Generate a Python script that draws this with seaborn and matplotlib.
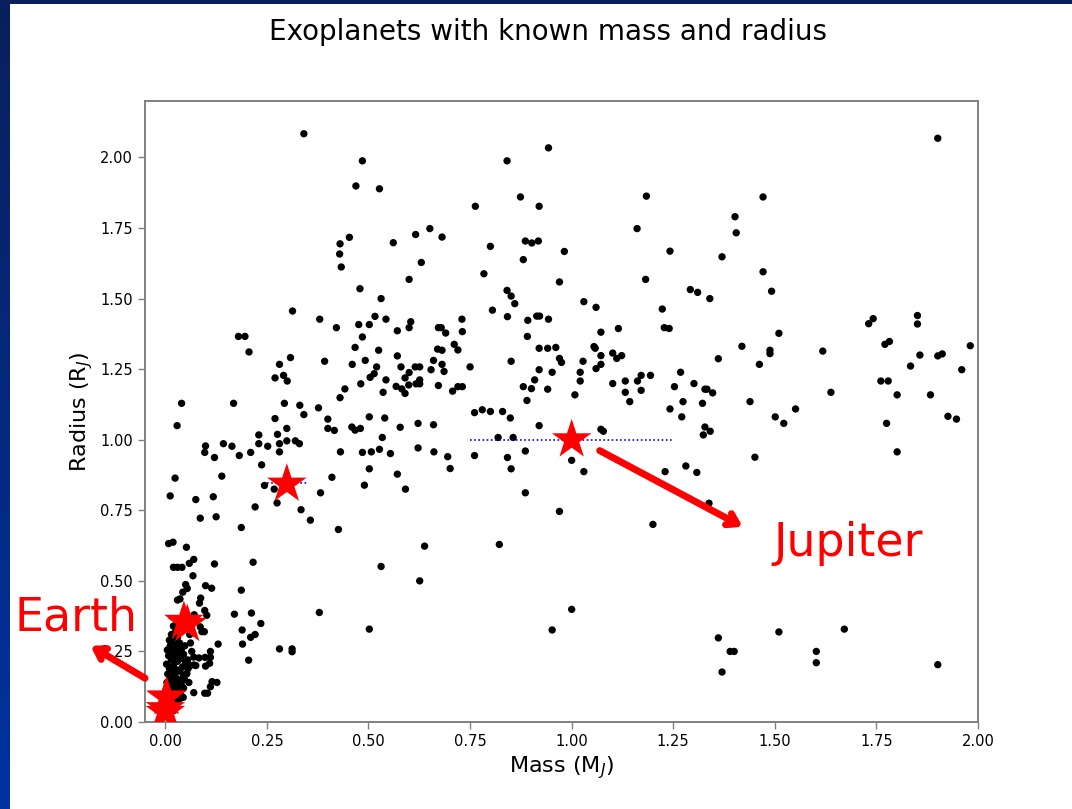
import numpy as np
import pandas as pd
import matplotlib
matplotlib.use("Agg")
import matplotlib.pyplot as plt
import seaborn as sns
from matplotlib.colors import LinearSegmentedColormap

# ---- exoplanet data (mass in M_J, radius in R_J) ----
mass_upper = [0.341, 0.485, 0.469, 0.527, 0.616, 0.453, 0.430, 0.561, 0.429, 0.630,
              0.433, 0.600, 0.479, 0.531, 0.313, 0.380, 0.516, 0.543, 0.421, 0.476,
              0.502, 0.604, 0.600, 0.571, 0.485, 0.180, 0.196, 0.206, 0.467, 0.525,
              0.308, 0.281, 0.392, 0.460, 0.492, 0.571, 0.520, 0.580, 0.615, 0.626,
              0.270, 0.291, 0.300, 0.514, 0.504, 0.543, 0.600, 0.590, 0.626, 0.481,
              0.568, 0.582, 0.599, 0.617, 0.626, 0.590, 0.442, 0.430, 0.536, 0.040,
              0.168, 0.293, 0.331, 0.377, 0.270, 0.341, 0.400, 0.502, 0.540]
radius_upper = [2.084, 1.988, 1.899, 1.889, 1.727, 1.717, 1.694, 1.698, 1.658, 1.628,
                1.612, 1.568, 1.535, 1.500, 1.456, 1.427, 1.437, 1.427, 1.397, 1.408,
                1.408, 1.418, 1.397, 1.386, 1.364, 1.366, 1.366, 1.311, 1.327, 1.317,
                1.291, 1.267, 1.278, 1.267, 1.281, 1.297, 1.258, 1.258, 1.258, 1.258,
                1.219, 1.228, 1.208, 1.234, 1.221, 1.212, 1.238, 1.219, 1.212, 1.198,
                1.189, 1.180, 1.194, 1.198, 1.198, 1.164, 1.180, 1.149, 1.168, 1.129,
                1.129, 1.129, 1.122, 1.113, 1.075, 1.089, 1.073, 1.081, 1.077]

mass_mid = [0.943, 0.841, 0.874, 0.763, 0.920, 1.184, 0.651, 0.681, 1.161, 0.800,
            0.886, 0.902, 0.918, 0.881, 0.982, 1.242, 0.784, 0.970, 1.182, 0.841,
            0.851, 0.860, 1.292, 1.310, 1.030, 1.060, 1.223, 0.805, 0.842, 0.730,
            0.892, 0.914, 0.921, 0.943, 0.672, 0.679, 0.690, 0.731, 1.072, 1.115,
            1.228, 1.240, 0.891, 0.711, 0.670, 0.681, 0.720, 0.920, 0.941, 0.961,
            1.055, 1.058, 1.101, 1.111, 1.123, 0.660, 0.681, 0.654, 0.686, 0.750,
            0.851, 0.970, 0.975, 1.028, 1.072, 1.072, 1.060, 0.920, 0.952, 0.909,
            1.021, 1.021, 0.672, 0.707, 0.720, 0.731, 0.881, 0.901, 0.941, 0.890,
            1.008, 1.101, 1.132, 1.132, 1.143, 1.162, 1.171, 1.171, 1.194, 1.268,
            1.253, 1.301, 1.328, 1.274, 1.322, 1.242, 1.271, 0.761, 0.780, 0.800,
            0.830, 0.849]
radius_mid = [2.034, 1.988, 1.860, 1.827, 1.827, 1.863, 1.748, 1.718, 1.748, 1.685,
              1.704, 1.697, 1.704, 1.638, 1.667, 1.668, 1.588, 1.559, 1.568, 1.529,
              1.509, 1.482, 1.532, 1.522, 1.489, 1.469, 1.463, 1.459, 1.436, 1.427,
              1.423, 1.438, 1.438, 1.427, 1.397, 1.397, 1.378, 1.383, 1.381, 1.394,
              1.397, 1.394, 1.366, 1.338, 1.321, 1.317, 1.318, 1.324, 1.324, 1.327,
              1.330, 1.324, 1.307, 1.288, 1.298, 1.281, 1.267, 1.248, 1.242, 1.258,
              1.278, 1.288, 1.274, 1.278, 1.298, 1.267, 1.252, 1.248, 1.239, 1.212,
              1.239, 1.208, 1.192, 1.172, 1.188, 1.188, 1.188, 1.181, 1.179, 1.139,
              1.159, 1.199, 1.208, 1.168, 1.135, 1.208, 1.228, 1.175, 1.228, 1.239,
              1.188, 1.199, 1.179, 1.135, 1.129, 1.109, 1.081, 1.096, 1.106, 1.100,
              1.100, 1.077]

mass_right = [1.901, 1.471, 1.402, 1.405, 1.370, 1.471, 1.492, 1.340, 1.510, 1.731,
              1.742, 1.851, 1.851, 1.419, 1.488, 1.488, 1.618, 1.771, 1.782, 1.857,
              1.901, 1.912, 1.981, 1.361, 1.462, 1.834, 1.960, 1.333, 1.347, 1.439,
              1.638, 1.761, 1.779, 1.801, 1.883, 1.551, 1.501, 1.926, 1.947]
radius_right = [2.068, 1.860, 1.790, 1.733, 1.648, 1.595, 1.526, 1.500, 1.377, 1.411,
                1.429, 1.440, 1.410, 1.331, 1.317, 1.305, 1.314, 1.338, 1.348, 1.300,
                1.297, 1.304, 1.333, 1.287, 1.267, 1.261, 1.248, 1.179, 1.166, 1.135,
                1.168, 1.208, 1.208, 1.159, 1.159, 1.109, 1.081, 1.083, 1.073]

mass_low = [0.029, 0.299, 0.400, 0.416, 0.459, 0.467, 0.480, 0.578, 0.622, 0.230,
            0.276, 0.099, 0.097, 0.143, 0.164, 0.121, 0.182, 0.210, 0.230, 0.252,
            0.281, 0.281, 0.299, 0.320, 0.330, 0.237, 0.431, 0.485, 0.507, 0.527,
            0.554, 0.534, 0.622, 0.502, 0.571, 0.490, 0.591, 0.410, 0.024, 0.139,
            0.012, 0.075, 0.118, 0.244, 0.268, 0.275, 0.221, 0.334, 0.357, 0.382,
            0.426, 0.086, 0.125, 0.187, 0.008, 0.019, 0.052, 0.638, 0.020, 0.030,
            0.041, 0.059, 0.070, 0.121, 0.216, 0.068, 0.531, 0.626, 0.050, 0.054,
            0.043, 0.099, 0.114, 0.187, 0.030, 0.036, 0.084, 0.087, 0.097, 0.102,
            0.170, 0.212, 0.235, 0.189, 0.210, 0.221, 0.190, 0.205, 0.281, 0.312,
            0.312, 0.379, 0.502, 0.071, 0.096, 0.130, 0.111, 0.083, 0.098, 0.111,
            0.099, 0.109, 0.070, 0.056, 0.053, 0.115, 0.127, 0.111, 0.070, 0.097,
            0.104, 0.047, 0.044, 0.086, 0.090, 0.041]
radius_low = [1.050, 1.040, 1.040, 1.033, 1.045, 1.034, 1.040, 1.044, 1.058, 1.017,
              1.019, 0.978, 0.955, 0.986, 0.977, 0.937, 0.944, 0.955, 0.986, 0.977,
              0.986, 0.957, 0.996, 0.996, 0.986, 0.911, 0.957, 0.955, 0.957, 0.966,
              0.951, 1.008, 0.971, 0.897, 0.878, 0.839, 0.825, 0.867, 0.864, 0.871,
              0.801, 0.788, 0.798, 0.838, 0.825, 0.776, 0.762, 0.752, 0.715, 0.812,
              0.682, 0.722, 0.727, 0.689, 0.632, 0.637, 0.619, 0.623, 0.548, 0.548,
              0.548, 0.562, 0.576, 0.560, 0.566, 0.518, 0.551, 0.500, 0.487, 0.473,
              0.460, 0.483, 0.474, 0.467, 0.432, 0.436, 0.421, 0.439, 0.395, 0.378,
              0.382, 0.386, 0.349, 0.326, 0.300, 0.310, 0.276, 0.219, 0.259, 0.259,
              0.249, 0.388, 0.329, 0.380, 0.320, 0.276, 0.250, 0.227, 0.229, 0.229,
              0.198, 0.208, 0.202, 0.189, 0.172, 0.143, 0.140, 0.125, 0.104, 0.102,
              0.102, 0.151, 0.087, 0.337, 0.320, 0.090]

mass_lowmid = [0.660, 0.920, 1.072, 1.078, 1.324, 0.819, 0.856, 0.661, 0.695, 0.701,
               0.761, 0.842, 0.851, 0.886, 1.000, 1.030, 1.230, 1.281, 1.308, 0.886,
               0.970, 1.200, 0.822, 1.000, 0.952, 1.522, 1.775, 1.328, 1.341, 1.451,
               1.801, 1.338, 1.361, 1.390, 1.400, 1.370, 1.510, 1.671, 1.602, 1.602,
               1.901]
radius_lowmid = [1.053, 1.050, 1.037, 1.030, 1.017, 1.008, 1.008, 0.957, 0.940, 0.898,
                 0.944, 0.937, 0.897, 0.960, 0.927, 0.887, 0.887, 0.907, 0.884, 0.812,
                 0.746, 0.700, 0.629, 0.399, 0.326, 1.058, 1.058, 1.045, 1.030, 0.938,
                 0.957, 0.775, 0.298, 0.250, 0.250, 0.177, 0.319, 0.329, 0.250, 0.210,
                 0.203]

mass_cluster = [0.020, 0.025, 0.015, 0.030, 0.010, 0.022, 0.035, 0.012, 0.028, 0.040,
                0.005, 0.018, 0.032, 0.045, 0.008, 0.024, 0.038, 0.015, 0.030, 0.050,
                0.003, 0.020, 0.042, 0.010, 0.028, 0.036, 0.016, 0.006, 0.024, 0.044,
                0.012, 0.032, 0.020, 0.004, 0.026, 0.040, 0.014, 0.030, 0.008, 0.022,
                0.036, 0.016, 0.028, 0.010, 0.020, 0.034, 0.006, 0.018, 0.026, 0.012,
                0.020, 0.048, 0.055, 0.060, 0.052, 0.058, 0.045, 0.062, 0.065, 0.060,
                0.070, 0.075]
radius_cluster = [0.340, 0.320, 0.310, 0.300, 0.290, 0.285, 0.280, 0.270, 0.265, 0.260,
                  0.255, 0.250, 0.245, 0.240, 0.235, 0.230, 0.225, 0.220, 0.215, 0.210,
                  0.205, 0.200, 0.195, 0.190, 0.185, 0.180, 0.175, 0.170, 0.165, 0.160,
                  0.155, 0.150, 0.145, 0.140, 0.135, 0.130, 0.125, 0.120, 0.115, 0.110,
                  0.105, 0.100, 0.095, 0.090, 0.085, 0.080, 0.075, 0.070, 0.060, 0.050,
                  0.040, 0.270, 0.220, 0.200, 0.170, 0.140, 0.120, 0.280, 0.250, 0.310,
                  0.230, 0.200]

# ---- solar-system planets (red stars) ----
ss_names = ["Mercury", "Venus", "Earth", "Mars", "Jupiter", "Saturn", "Uranus", "Neptune"]
ss_mass = [0.00017, 0.00256, 0.00315, 0.00034, 1.0, 0.299, 0.0457, 0.054]
ss_radius = [0.034, 0.0866, 0.0892, 0.0475, 1.0, 0.843, 0.357, 0.346]

# horizontal dotted ranges
range_y = [1.0, 0.845]
range_xmin = [0.75, 0.25]
range_xmax = [1.25, 0.35]

title = "Exoplanets with known mass and radius"
xlabel = "Mass (M$_J$)"
ylabel = "Radius (R$_J$)"
xticks = [0.00, 0.25, 0.50, 0.75, 1.00, 1.25, 1.50, 1.75, 2.00]
yticks = [0.00, 0.25, 0.50, 0.75, 1.00, 1.25, 1.50, 1.75, 2.00]

exo = pd.DataFrame({
    "mass": mass_upper + mass_mid + mass_right + mass_low + mass_lowmid + mass_cluster,
    "radius": radius_upper + radius_mid + radius_right + radius_low + radius_lowmid + radius_cluster,
})
ss = pd.DataFrame({"name": ss_names, "mass": ss_mass, "radius": ss_radius})

sns.set_style("ticks")
plt.rcParams["font.family"] = ["DejaVu Sans"]
plt.rcParams["text.color"] = "black"
plt.rcParams["axes.labelcolor"] = "black"

fig = plt.figure(figsize=(10.72, 8.09), dpi=100)
fig.patch.set_facecolor("white")

# slide-like frame: blue strips at left and top
band = fig.add_axes([0, 0, 10 / 1072, 1])
grad = np.linspace(0, 1, 256).reshape(-1, 1)
cmap = LinearSegmentedColormap.from_list("slide", ["#0a1f5c", "#0033a0"])
band.imshow(grad, aspect="auto", cmap=cmap, extent=[0, 1, 0, 1])
band.axis("off")
topband = fig.add_axes([0, 1 - 4 / 809, 1, 4 / 809])
topband.axis("off")
topband.add_patch(plt.Rectangle((0, 0), 1, 1, color="#0a1f5c", transform=topband.transAxes))

ax = fig.add_axes([145 / 1072, 1 - 722 / 809, (978 - 145) / 1072, (722 - 101) / 809])

sns.scatterplot(data=exo, x="mass", y="radius", ax=ax, color="black", s=28,
                edgecolor="none", zorder=3, legend=False)

for y, x0, x1 in zip(range_y, range_xmin, range_xmax):
    ax.hlines(y, x0, x1, colors="blue", linestyles=(0, (1, 1.5)), lw=1.2, zorder=4)

sns.scatterplot(data=ss, x="mass", y="radius", ax=ax, color="red", marker="*",
                s=900, edgecolor="none", zorder=5, legend=False)

ax.set_xlim(-0.05, 2.0)
ax.set_ylim(0, 2.2)
ax.set_xticks(xticks)
ax.set_yticks(yticks)
ax.set_xticklabels([f"{v:.2f}" for v in xticks], fontsize=10.5)
ax.set_yticklabels([f"{v:.2f}" for v in yticks], fontsize=10.5)
ax.set_xlabel(xlabel, fontsize=16, labelpad=4, color="black")
ax.set_ylabel(ylabel, fontsize=16, labelpad=4, color="black")
for sp in ax.spines.values():
    sp.set_color("#808080")
    sp.set_linewidth(1.4)
ax.tick_params(labelcolor="black", length=5, width=1.0, color="#808080")

fig.text(548 / 1072, 1 - 32 / 809, title, ha="center", va="center", fontsize=20,
         color="black")

# annotations
ax.annotate("", xy=(-0.19, 0.275), xytext=(-0.044, 0.15),
            arrowprops=dict(arrowstyle="->,head_length=0.7,head_width=0.45",
                            color="red", lw=5), annotation_clip=False, zorder=6)
ax.text(-0.221, 0.37, "Earth", color="red", fontsize=33, ha="center", va="center",
        clip_on=False, zorder=6)
ax.annotate("", xy=(1.427, 0.687), xytext=(1.063, 0.966),
            arrowprops=dict(arrowstyle="->,head_length=0.7,head_width=0.45",
                            color="red", lw=5), annotation_clip=False, zorder=6)
ax.text(1.68, 0.634, "Jupiter", color="red", fontsize=33, ha="center", va="center",
        zorder=6)

fig.savefig("out.png", dpi=100)
